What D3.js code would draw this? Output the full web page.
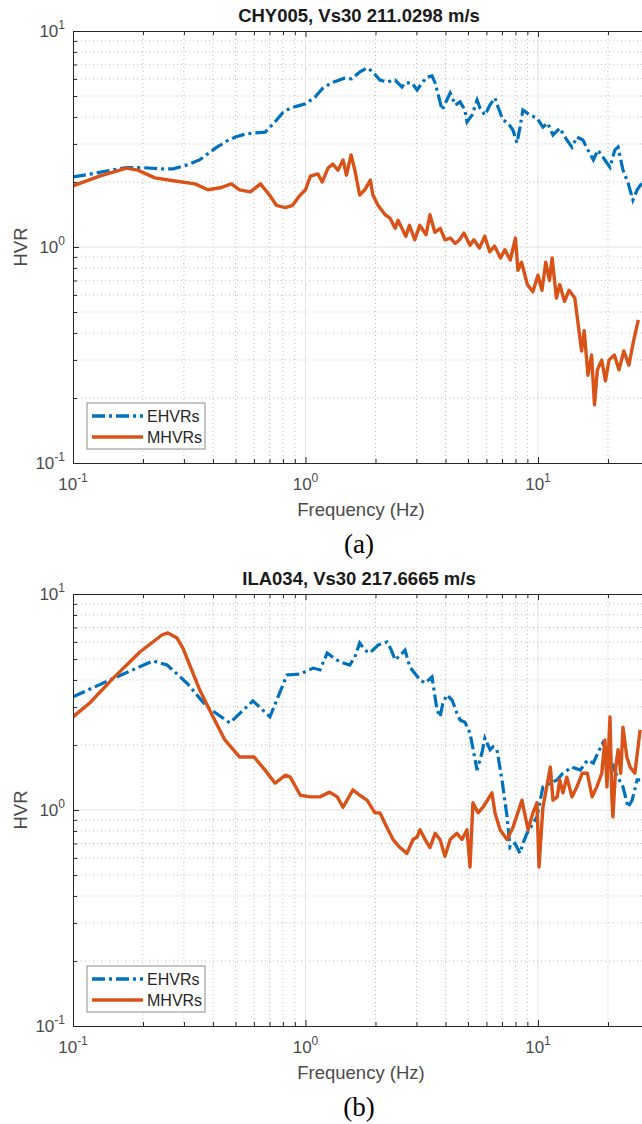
<!DOCTYPE html>
<html>
<head>
<meta charset="utf-8">
<script src="https://cdn.jsdelivr.net/npm/d3@7"></script>
<style>
  body { margin: 0; background: #fff; }
  text { font-family: "Liberation Sans", Arial, sans-serif; }
</style>
</head>
<body>
<div id="chart"></div>
<script>
// ---- data (frequency in Hz, HVR) ----
const freqEA = [0.1, 0.12, 0.15, 0.17, 0.2, 0.24, 0.27, 0.31, 0.35, 0.41, 0.46, 0.5, 0.55, 0.6, 0.67, 0.74, 0.8, 0.86, 0.93, 1.0,
  1.1, 1.18, 1.29, 1.38, 1.47, 1.58, 1.71, 1.84, 1.94, 2.09, 2.24, 2.43, 2.6, 2.68, 2.87, 3.02, 3.17, 3.33, 3.5, 3.61,
  3.87, 3.98, 4.19, 4.41, 4.62, 4.85, 4.95, 5.2, 5.47, 5.63, 5.91, 6.21, 6.53, 6.73, 7.07, 7.43, 7.8, 8.12, 8.37, 8.61,
  9.24, 9.9, 10.5, 11.0, 11.6, 12.4, 13.3, 14.0, 14.7, 15.6, 16.4, 17.3, 18.1, 19.0, 20.4, 21.4, 22.1, 23.2, 24.4,
  25.6, 26.7, 28.0]
const ehvrA = [2.11, 2.18, 2.28, 2.33, 2.33, 2.3, 2.3, 2.4, 2.53, 2.87, 3.1, 3.23, 3.33, 3.37, 3.4, 3.8, 4.2, 4.4, 4.5, 4.6,
  4.95, 5.4, 5.75, 5.9, 6.05, 6.0, 6.45, 6.75, 6.5, 5.93, 5.8, 5.93, 5.5, 5.75, 5.75, 5.33, 5.75, 6.12, 6.2, 5.75,
  4.31, 4.6, 5.16, 4.54, 4.7, 4.31, 3.79, 4.08, 4.79, 4.4, 4.08, 4.54, 4.9, 4.45, 3.87, 3.75, 3.48, 3.03, 3.59, 4.31,
  4.08, 3.95, 3.59, 3.75, 3.3, 3.55, 3.13, 2.9, 3.23, 3.13, 2.81, 2.53, 2.81, 2.61, 2.34, 2.81, 2.9, 2.27, 1.98,
  1.65, 1.84, 1.98]

const freqMA = [0.1, 0.13, 0.17, 0.19, 0.225, 0.275, 0.335, 0.38, 0.43, 0.48, 0.52, 0.58, 0.64, 0.7, 0.75, 0.82, 0.88, 0.94, 1.0,
  1.05, 1.13, 1.18, 1.25, 1.31, 1.38, 1.45, 1.5, 1.57, 1.63, 1.71, 1.8, 1.9, 1.95, 2.05, 2.2, 2.31, 2.43, 2.5, 2.7,
  2.8, 2.95, 3.1, 3.3, 3.43, 3.6, 3.8, 3.98, 4.2, 4.4, 4.6, 4.8, 5.1, 5.3, 5.6, 5.9, 6.2, 6.5, 6.9, 7.2, 7.6, 8.0,
  8.2, 8.5, 9.0, 9.5, 10.0, 10.4, 10.8, 11.2, 11.5, 12.0, 12.4, 13.0, 13.6, 14.4, 14.8, 15.4, 15.8, 16.4, 17.0,
  17.5, 18.0, 18.8, 19.5, 20.2, 21.3, 22.3, 23.4, 24.6, 25.8, 27.0]
const mhvrA = [1.92, 2.13, 2.32, 2.27, 2.09, 2.02, 1.96, 1.84, 1.88, 1.96, 1.84, 1.8, 1.96, 1.74, 1.56, 1.52, 1.56, 1.72, 1.84,
  2.13, 2.18, 2.0, 2.32, 2.42, 2.27, 2.53, 2.15, 2.67, 2.27, 1.74, 1.84, 2.04, 1.74, 1.56, 1.41, 1.36, 1.22, 1.33, 1.12,
  1.26, 1.08, 1.26, 1.14, 1.41, 1.17, 1.22, 1.08, 1.1, 1.04, 1.08, 1.16, 1.02, 1.08, 0.99, 1.12, 0.95, 1.01, 0.89, 0.97, 0.87, 1.1,
  0.78, 0.85, 0.67, 0.62, 0.74, 0.63, 0.85, 0.7, 0.89, 0.58, 0.67, 0.56, 0.63, 0.58, 0.46, 0.33, 0.41, 0.255, 0.316,
  0.186, 0.27, 0.3, 0.24, 0.3, 0.316, 0.27, 0.33, 0.284, 0.37, 0.46]

const freqEB = [0.1, 0.144, 0.221, 0.254, 0.309, 0.377, 0.473, 0.594, 0.703, 0.832, 0.946, 1.08, 1.154, 1.24, 1.31, 1.41, 1.55,
  1.63, 1.71, 1.8, 1.89, 2.05, 2.24, 2.34, 2.43, 2.55, 2.68, 2.81, 3.11, 3.27, 3.5, 3.68, 3.79, 3.9, 4.06, 4.27,
  4.48, 4.62, 4.85, 5.1, 5.47, 5.74, 5.91, 6.22, 6.4, 6.66, 7.0, 7.36, 7.58, 7.96, 8.37, 8.61, 8.97, 9.9, 10.5,
  11.3, 12.1, 12.8, 14.0, 15.2, 16.3, 17.3, 18.1, 19.0, 20.4, 21.6, 23.2, 24.4, 25.4, 26.7, 27.5]
const ehvrB = [3.34, 4.0, 4.9, 4.69, 3.87, 3.0, 2.53, 3.2, 2.7, 4.22, 4.26, 4.54, 4.45, 5.33, 5.1, 4.84, 4.69,
  5.1, 5.93, 5.5, 5.33, 5.8, 6.0, 5.5, 4.95, 5.2, 5.5, 4.59, 4.0, 3.87, 4.13, 2.9, 2.7, 3.13, 3.41, 3.23,
  2.81, 2.61, 2.55, 2.27, 1.53, 1.84, 2.15, 1.9, 1.96, 1.9, 1.38, 0.93, 0.67, 0.7, 0.63, 0.7, 0.78, 0.93, 1.28,
  1.33, 1.38, 1.48, 1.58, 1.53, 1.7, 1.65, 1.84, 2.04, 1.76, 1.48, 1.28, 1.03, 1.11, 1.38, 1.38]

const freqMB = [0.1, 0.118, 0.149, 0.194, 0.241, 0.256, 0.28, 0.297, 0.351, 0.4, 0.45, 0.52, 0.6, 0.67, 0.74, 0.82, 0.86, 0.95,
  1.05, 1.154, 1.27, 1.37, 1.45, 1.6, 1.71, 1.84, 1.99, 2.09, 2.24, 2.38, 2.55, 2.73, 2.9, 3.02, 3.11, 3.27, 3.43,
  3.61, 3.79, 3.98, 4.19, 4.48, 4.71, 4.95, 5.1, 5.25, 5.52, 5.8, 6.34, 6.53, 6.87, 7.36, 7.8, 8.53, 9.06, 9.51,
  9.9, 10.1, 10.5, 10.9, 11.3, 11.6, 12.1, 12.4, 12.8, 13.3, 14.0, 14.7, 15.5, 16.3, 17.1, 17.9, 18.8, 19.4, 19.8,
  20.4, 20.8, 21.0, 21.6, 22.1, 22.7, 23.2, 24.1, 24.9, 26.1, 27.5]
const mhvrB = [2.7, 3.13, 4.08, 5.39, 6.46, 6.6, 6.25, 5.62, 3.59, 2.7, 2.11, 1.76, 1.76, 1.53, 1.33, 1.45, 1.42, 1.17,
  1.15, 1.15, 1.21, 1.15, 1.03, 1.24, 1.17, 1.11, 0.97, 0.97, 0.83, 0.73, 0.67, 0.63, 0.73, 0.75, 0.81, 0.73, 0.67,
  0.78, 0.73, 0.61, 0.73, 0.78, 0.73, 0.81, 0.545, 1.08, 0.97, 1.03, 1.2, 0.97, 0.81, 0.73, 0.83, 1.11, 0.81, 0.97,
  1.08, 0.545, 1.03, 1.28, 1.58, 1.11, 1.15, 1.38, 1.2, 1.42, 1.15, 1.28, 1.48, 1.48, 1.15, 1.28, 1.48, 2.11, 1.28,
  2.7, 1.11, 0.93, 1.58, 1.9, 1.48, 2.42, 1.76, 1.58, 1.48, 2.35]

const titles = ['CHY005, Vs30 211.0298 m/s', 'ILA034, Vs30 217.6665 m/s']
const tags = ['(a)', '(b)']
const seriesNames = ['EHVRs', 'MHVRs']
const decades = [0.1, 1, 10]
const exponents = ['-1', '0', '1']

const blue = '#0072BD'
const orange = '#D95319'
const axisColor = '#262626'
const labelColor = '#4a4a4a'

const W = 642, H = 1124
const left = 73
const decadePx = 232.5

const svg = d3.select('#chart').append('svg')
  .attr('width', W)
  .attr('height', H)

const panels = [
  { top: 31, bottom: 463, title: titles[0], tag: tags[0], e: [freqEA, ehvrA], m: [freqMA, mhvrA] },
  { top: 594, bottom: 1026, title: titles[1], tag: tags[1], e: [freqEB, ehvrB], m: [freqMB, mhvrB] }
]

const minors = d3.range(2, 10).map(d => d / 10).concat(d3.range(2, 10), [20])

panels.forEach((p, i) => {
  const x = d3.scaleLog().domain([0.1, 30]).range([left, left + decadePx * Math.log10(300)])
  const y = d3.scaleLog().domain([0.1, 10]).range([p.bottom, p.top])
  const right = x.range()[1]

  const g = svg.append('g')

  // grid
  const grid = g.append('g')
  grid.selectAll('.xminor').data(minors).enter().append('line')
    .attr('x1', d => x(d)).attr('x2', d => x(d))
    .attr('y1', p.top).attr('y2', p.bottom)
    .attr('stroke', '#bdbdbd').attr('stroke-width', 1).attr('stroke-dasharray', '1,3')
  grid.selectAll('.yminor').data(minors.filter(d => d < 10)).enter().append('line')
    .attr('x1', left).attr('x2', right)
    .attr('y1', d => y(d)).attr('y2', d => y(d))
    .attr('stroke', '#bdbdbd').attr('stroke-width', 1).attr('stroke-dasharray', '1,3')
  grid.selectAll('.xmajor').data([1, 10]).enter().append('line')
    .attr('x1', d => x(d)).attr('x2', d => x(d))
    .attr('y1', p.top).attr('y2', p.bottom)
    .attr('stroke', '#e2e2e2').attr('stroke-width', 1)
  grid.append('line')
    .attr('x1', left).attr('x2', right)
    .attr('y1', y(1)).attr('y2', y(1))
    .attr('stroke', '#e2e2e2').attr('stroke-width', 1)

  // data lines
  const clipId = 'clip' + i
  g.append('clipPath').attr('id', clipId).append('rect')
    .attr('x', left).attr('y', p.top).attr('width', right - left).attr('height', p.bottom - p.top)

  const line = d3.line().x(d => x(d[0])).y(d => y(d[1]))
  const plot = g.append('g').attr('clip-path', `url(#${clipId})`)
  plot.append('path')
    .datum(p.e[0].map((f, k) => [f, p.e[1][k]]))
    .attr('d', line)
    .attr('fill', 'none').attr('stroke', blue).attr('stroke-width', 3.2)
    .attr('stroke-dasharray', '13,4,3,4')
  plot.append('path')
    .datum(p.m[0].map((f, k) => [f, p.m[1][k]]))
    .attr('d', line)
    .attr('fill', 'none').attr('stroke', orange).attr('stroke-width', 3.4)
    .attr('stroke-linejoin', 'round')

  // axes (ticks inward)
  const styleAxis = sel => {
    sel.select('.domain').attr('stroke', axisColor)
    sel.selectAll('.tick line').attr('stroke', axisColor)
    sel.selectAll('.tick text').remove()
  }
  g.append('g').attr('transform', `translate(0,${p.bottom})`)
    .call(d3.axisBottom(x).tickValues(decades).tickSizeInner(-6).tickSizeOuter(0).tickFormat(''))
    .call(styleAxis)
  g.append('g').attr('transform', `translate(0,${p.bottom})`)
    .call(d3.axisBottom(x).tickValues(minors).tickSizeInner(-4).tickSizeOuter(0).tickFormat(''))
    .call(styleAxis).select('.domain').remove()
  g.append('g').attr('transform', `translate(0,${p.top})`)
    .call(d3.axisTop(x).tickValues(decades).tickSizeInner(-6).tickSizeOuter(0).tickFormat(''))
    .call(styleAxis)
  g.append('g').attr('transform', `translate(0,${p.top})`)
    .call(d3.axisTop(x).tickValues(minors).tickSizeInner(-4).tickSizeOuter(0).tickFormat(''))
    .call(styleAxis).select('.domain').remove()
  g.append('g').attr('transform', `translate(${left},0)`)
    .call(d3.axisLeft(y).tickValues(decades).tickSizeInner(-6).tickSizeOuter(0).tickFormat(''))
    .call(styleAxis)
  g.append('g').attr('transform', `translate(${left},0)`)
    .call(d3.axisLeft(y).tickValues(minors.filter(d => d < 10)).tickSizeInner(-4).tickSizeOuter(0).tickFormat(''))
    .call(styleAxis).select('.domain').remove()

  // tick labels 10^n
  decades.forEach((d, k) => {
    const tx = g.append('text')
      .attr('x', x(d)).attr('y', p.bottom + 27)
      .attr('text-anchor', 'middle')
      .attr('fill', labelColor).attr('font-size', 17)
    tx.append('tspan').text('10')
    tx.append('tspan').attr('dy', -8).attr('font-size', 12).text(exponents[k])

    const ty = g.append('text')
      .attr('x', 65).attr('y', y(d) + 6)
      .attr('text-anchor', 'end')
      .attr('fill', labelColor).attr('font-size', 17)
    ty.append('tspan').text('10')
    ty.append('tspan').attr('dy', -8).attr('font-size', 12).text(exponents[k])
  })

  // title + labels
  g.append('text')
    .attr('x', 359).attr('y', p.top - 9)
    .attr('text-anchor', 'middle')
    .attr('font-weight', 'bold').attr('font-size', 18.5).attr('fill', '#1a1a1a')
    .text(p.title)
  g.append('text')
    .attr('x', 361).attr('y', p.bottom + 53)
    .attr('text-anchor', 'middle')
    .attr('font-size', 18.5).attr('fill', labelColor)
    .text('Frequency (Hz)')
  g.append('text')
    .attr('transform', `translate(27,${(p.top + p.bottom) / 2}) rotate(-90)`)
    .attr('text-anchor', 'middle')
    .attr('font-size', 18.5).attr('fill', labelColor)
    .text('HVR')
  g.append('text')
    .attr('x', 359).attr('y', p.bottom + 90)
    .attr('text-anchor', 'middle')
    .style('font-family', '"Liberation Serif", "Times New Roman", serif')
    .attr('font-size', 27).attr('fill', '#000')
    .text(p.tag)

  // legend
  const lg = g.append('g')
  lg.append('rect')
    .attr('x', 87).attr('y', p.bottom - 60).attr('width', 118).attr('height', 46)
    .attr('fill', '#fff').attr('stroke', '#8c8c8c').attr('stroke-width', 1)
  seriesNames.forEach((name, k) => {
    const ly = p.bottom - 47 + k * 21
    lg.append('line')
      .attr('x1', 92).attr('x2', 143).attr('y1', ly).attr('y2', ly)
      .attr('stroke', k === 0 ? blue : orange).attr('stroke-width', 3.4)
      .attr('stroke-dasharray', k === 0 ? '13,4,3,4' : null)
    lg.append('text')
      .attr('x', 147).attr('y', ly + 5.5)
      .attr('font-size', 16).attr('fill', axisColor)
      .text(name)
  })
})
</script>
</body>
</html>
